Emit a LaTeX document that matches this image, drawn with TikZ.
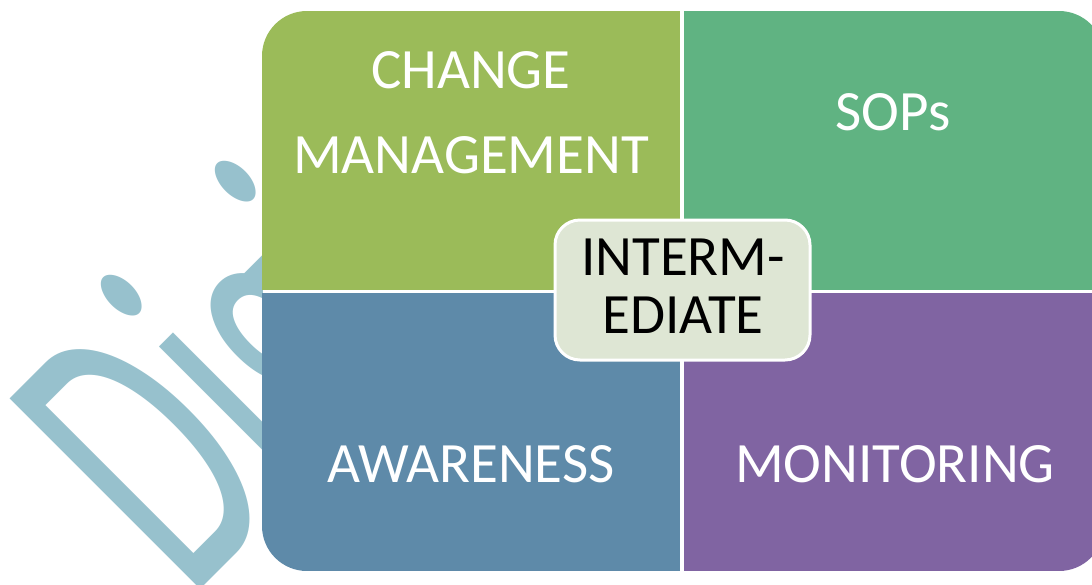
\documentclass[tikz,border=0pt]{standalone}
\usepackage{fontspec}
\setmainfont{Carlito}
\usepackage{graphicx}
\definecolor{qgreen}{HTML}{9BBB59}
\definecolor{qteal}{HTML}{60B382}
\definecolor{qblue}{HTML}{5E8AA9}
\definecolor{qpurple}{HTML}{8064A2}
\definecolor{qcenter}{HTML}{DEE6D4}
\definecolor{wmblue}{HTML}{97C1CD}
\tikzset{
  quad/.style={rectangle, inner sep=0pt, draw=none, anchor=north west},
  lbl/.style={inner sep=0pt, text=white, font=\fontsize{57}{85}\selectfont, anchor=base},
  clbl/.style={inner sep=0pt, text=black, font=\fontsize{57}{58}\selectfont, anchor=base},
  wmark/.style={inner sep=0pt, anchor=base west, rotate=45, text=wmblue, font=\fontsize{420}{420}\selectfont},
  centerbox/.style={rectangle, rounded corners=25pt, fill=qcenter, draw=white, line width=3pt, minimum width=255pt, minimum height=140pt, inner sep=0pt}
}
\begin{document}
\begin{tikzpicture}[x=1pt,y=-1pt]
\useasboundingbox (0,0) rectangle (1092,584);
\fill[white] (0,0) rectangle (1092,584);
% watermark
\begin{scope}
\clip (0,0) rectangle (262,584);
\node[wmark] (wm) at (189,601) {\scalebox{0.55}[1]{Digi}};
\end{scope}
% quadrants
\begin{scope}
\clip[rounded corners=45pt] (262,11) rectangle (1104,571);
\node[quad, fill=qgreen, minimum width=418pt, minimum height=279pt] (q1) at (262,11) {};
\node[quad, fill=qteal, minimum width=420pt, minimum height=279pt] (q2) at (684,11) {};
\node[quad, fill=qblue, minimum width=418pt, minimum height=278pt] (q3) at (262,293) {};
\node[quad, fill=qpurple, minimum width=420pt, minimum height=278pt] (q4) at (684,293) {};
\end{scope}
\node[lbl] (t1) at (471,88) {\begin{tabular}[t]{@{}c@{}}CHANGE\\MANAGEMENT\end{tabular}};
\node[lbl] (t2) at (893,130) {SOPs};
\node[lbl] (t3) at (471,482) {AWARENESS};
\node[lbl] (t4) at (895,482) {MONITORING};
\node[centerbox] (c) at (682.5,290) {};
\node[clbl] (ct) at (683,275) {\begin{tabular}[t]{@{}c@{}}INTERM-\\EDIATE\end{tabular}};
\end{tikzpicture}
\end{document}
